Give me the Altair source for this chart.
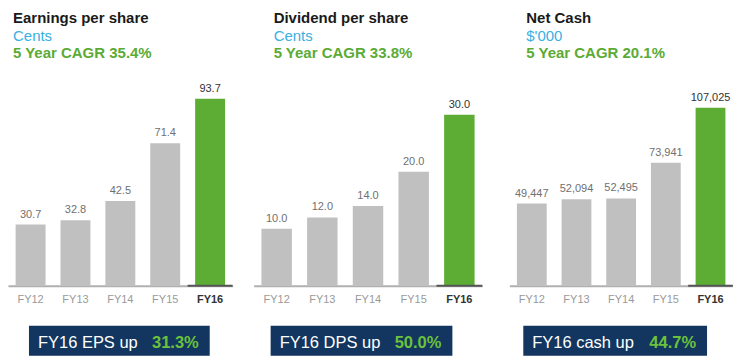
import altair as alt
import pandas as pd

years = ["FY12", "FY13", "FY14", "FY15", "FY16"]
eps = [30.7, 32.8, 42.5, 71.4, 93.7]
dps = [10.0, 12.0, 14.0, 20.0, 30.0]
cash = [49447, 52094, 52495, 73941, 107025]

titles = ["Earnings per share", "Dividend per share", "Net Cash"]
units = ["Cents", "Cents", "$'000"]
cagr = ["5 Year CAGR 35.4%", "5 Year CAGR 33.8%", "5 Year CAGR 20.1%"]
box_text = ["FY16 EPS up ", "FY16 DPS up ", "FY16 cash up "]
box_pct = ["31.3%", "50.0%", "44.7%"]
y_max = [100, 35, 120000]
fmts = [".1f", ".1f", ","]

FONT = "Liberation Sans"
GREEN = "#5dad35"
GREEN_TXT = "#5bab35"
BOX_GREEN = "#6cc23c"
GRAY_BAR = "#c0c0c0"
NAVY = "#12365f"
BLUE = "#3bb0e3"
H = 200


def one_text(txt, x, y, color, size, weight="normal", align="left"):
    return alt.Chart(pd.DataFrame({"t": [txt]})).mark_text(
        align=align, baseline="alphabetic", font=FONT, fontSize=size,
        fontWeight=weight, color=color
    ).encode(text="t:N", x=alt.value(x), y=alt.value(y))


def panel(values, i, width, title_x, bx0, bx1):
    df = pd.DataFrame({"year": years, "value": values})
    x = alt.X(
        "year:N", sort=years,
        scale=alt.Scale(paddingInner=0.333, paddingOuter=0.17),
        axis=alt.Axis(
            title=None, labelAngle=0, ticks=False, domainColor="#b0b0b0",
            domainWidth=2, labelFont=FONT, labelFontSize=11, labelPadding=8,
            labelColor={"condition": {"test": "datum.value === 'FY16'", "value": "#333333"}, "value": "#9a9a9a"},
            labelFontWeight={"condition": {"test": "datum.value === 'FY16'", "value": "bold"}, "value": "normal"},
        ),
    )
    y = alt.Y("value:Q", scale=alt.Scale(domain=[0, y_max[i]]), axis=None)
    base = alt.Chart(df)
    is16 = alt.datum.year == "FY16"
    bars = base.mark_bar().encode(
        x=x, y=y,
        color=alt.condition(is16, alt.value(GREEN), alt.value(GRAY_BAR)),
    )
    labels = base.mark_text(baseline="bottom", dy=-5, fontSize=11, font=FONT).encode(
        x=x, y=y,
        text=alt.Text("value:Q", format=fmts[i]),
        color=alt.condition(is16, alt.value("#333333"), alt.value("#707070")),
    )
    under = base.transform_filter(is16).mark_bar(
        color="#555555", width=alt.RelativeBandSize(1.5)
    ).encode(x=x, y=alt.value(H - 1), y2=alt.value(H + 1))
    t1 = one_text(titles[i], title_x, -63, "#1a1a1a", 15, "bold")
    t2 = one_text(units[i], title_x, -45.5, BLUE, 15)
    t3 = one_text(cagr[i], title_x, -28, GREEN_TXT, 15, "bold")
    box = alt.Chart(pd.DataFrame({"a": [0]})).mark_rect(color=NAVY).encode(
        x=alt.value(bx0), x2=alt.value(bx1), y=alt.value(240), y2=alt.value(270)
    )
    b1 = one_text(box_text[i], bx0 + 9, 262, "white", 16.5)
    b2 = one_text(box_pct[i], bx1 - 11, 262, BOX_GREEN, 16.5, "bold", "right")
    return alt.layer(bars, under, labels, t1, t2, t3, box, b1, b2).properties(
        width=width, height=H
    )


p1 = panel(eps, 0, 225, 5, 21, 202)
p2 = panel(dps, 1, 229, 20, 17, 199)
p3 = panel(cash, 2, 224, 17, 14, 198)

chart = alt.hconcat(alt.hconcat(p1, p2, spacing=21), p3, spacing=27).properties(
    padding={"left": 0, "top": 3, "right": 0, "bottom": 0},
    background="white",
).configure_view(stroke="transparent", strokeWidth=0)

chart.save("out.html", embed_options={"renderer": "svg", "actions": False})
